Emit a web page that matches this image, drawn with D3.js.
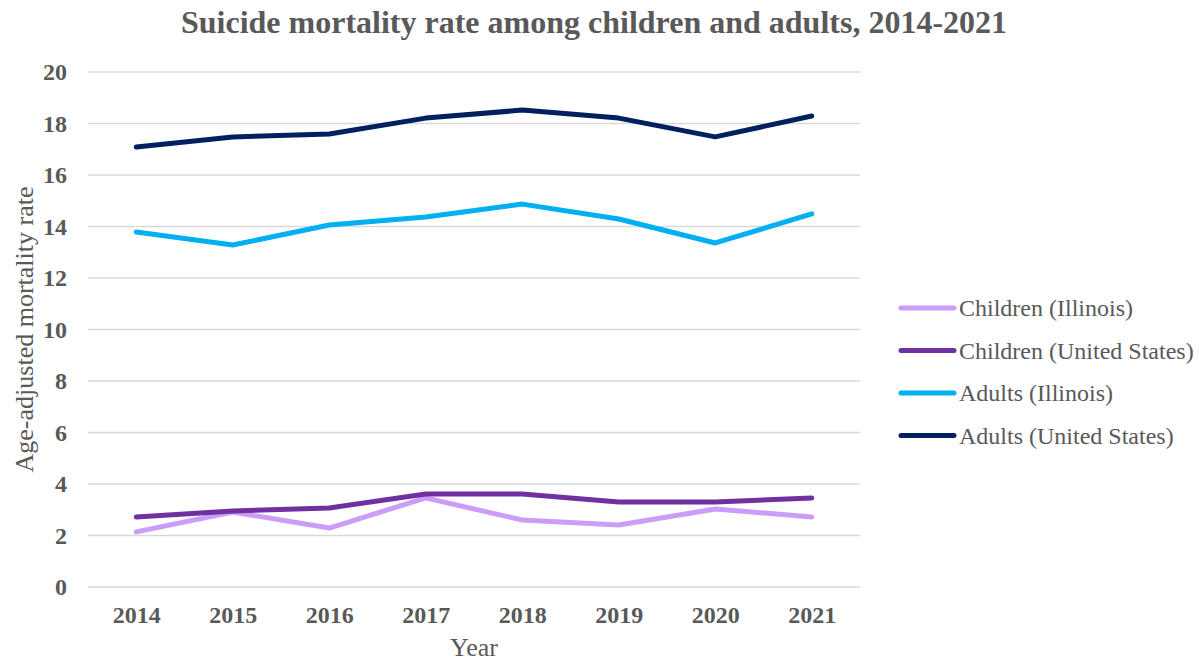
<!DOCTYPE html>
<html>
<head>
<meta charset="utf-8">
<script src="https://cdn.jsdelivr.net/npm/d3@7"></script>
<style>
  body { margin: 0; background: #fff; }
  svg text { font-family: 'Liberation Serif', serif !important; fill: #595959; }
</style>
</head>
<body>
<div id="chart"></div>
<script>
// data
var years = ["2014", "2015", "2016", "2017", "2018", "2019", "2020", "2021"];
var childrenIL = [2.14, 2.91, 2.29, 3.46, 2.60, 2.41, 3.03, 2.72];
var childrenUS = [2.72, 2.95, 3.07, 3.61, 3.61, 3.30, 3.30, 3.46];
var adultsIL = [13.79, 13.28, 14.06, 14.37, 14.87, 14.29, 13.36, 14.49];
var adultsUS = [17.09, 17.48, 17.59, 18.21, 18.52, 18.21, 17.48, 18.29];
var yTicks = [0, 2, 4, 6, 8, 10, 12, 14, 16, 18, 20];

var series = [
  { name: "Children (Illinois)", values: childrenIL, color: "#cc9cfa" },
  { name: "Children (United States)", values: childrenUS, color: "#7030a0" },
  { name: "Adults (Illinois)", values: adultsIL, color: "#00b0f0" },
  { name: "Adults (United States)", values: adultsUS, color: "#002060" }
];

var W = 1199, H = 663;
var margin = {top: 72, left: 88, right: 339, bottom: 76};
var width = W - margin.left - margin.right,
    height = H - margin.top - margin.bottom;

var svg = d3.select("#chart").append("svg")
  .attr("width", W).attr("height", H);

svg.append("text")
  .attr("x", 594).attr("y", 33)
  .attr("text-anchor", "middle")
  .style("font-size", "32px").style("font-weight", "bold")
  .text("Suicide mortality rate among children and adults, 2014-2021");

var g = svg.append("g")
  .attr("transform", "translate(" + margin.left + "," + margin.top + ")");

var x = d3.scalePoint().domain(years).range([0, width]).padding(0.5);
var y = d3.scaleLinear().domain([0, 20]).range([height, 0]);

// gridlines
g.append("g").selectAll("line").data(yTicks).join("line")
  .attr("x1", 0).attr("x2", width)
  .attr("y1", d => y(d)).attr("y2", d => y(d))
  .attr("stroke", "#d9d9d9").attr("stroke-width", 1.5);

// y axis
var yAxis = g.append("g")
  .call(d3.axisLeft(y).tickValues(yTicks).tickSize(0).tickPadding(21));
yAxis.select(".domain").remove();
yAxis.selectAll("text")
  .style("font-size", "24px").style("font-weight", "bold");

// x axis
var xAxis = g.append("g")
  .attr("transform", "translate(0," + height + ")")
  .call(d3.axisBottom(x).tickSize(0).tickPadding(19));
xAxis.select(".domain").remove();
xAxis.selectAll("text")
  .style("font-size", "24px").style("font-weight", "bold");
g.selectAll(".tick text").attr("fill", null);
svg.selectAll("g").attr("font-family", null).attr("font-size", null);

// axis titles
svg.append("text")
  .attr("x", margin.left + width / 2).attr("y", 656)
  .attr("text-anchor", "middle")
  .style("font-size", "26px")
  .text("Year");

svg.append("text")
  .attr("transform", "translate(33," + (margin.top + height / 2) + ") rotate(-90)")
  .attr("text-anchor", "middle")
  .style("font-size", "26px")
  .text("Age-adjusted mortality rate");

// lines
var line = d3.line()
  .x((d, i) => x(years[i]))
  .y(d => y(d));

g.selectAll(".series").data(series).join("path")
  .attr("class", "series")
  .attr("fill", "none")
  .attr("stroke", d => d.color)
  .attr("stroke-width", 5)
  .attr("stroke-linecap", "round")
  .attr("stroke-linejoin", "round")
  .attr("d", d => line(d.values));

// legend
var legend = svg.append("g").attr("transform", "translate(899,308)");
var item = legend.selectAll("g").data(series).join("g")
  .attr("transform", (d, i) => "translate(0," + i * 42.5 + ")");
item.append("line")
  .attr("x1", 2).attr("x2", 55)
  .attr("stroke", d => d.color)
  .attr("stroke-width", 5)
  .attr("stroke-linecap", "round");
item.append("text")
  .attr("x", 60).attr("dy", "0.35em")
  .style("font-size", "24px")
  .text(d => d.name);
</script>
</body>
</html>
